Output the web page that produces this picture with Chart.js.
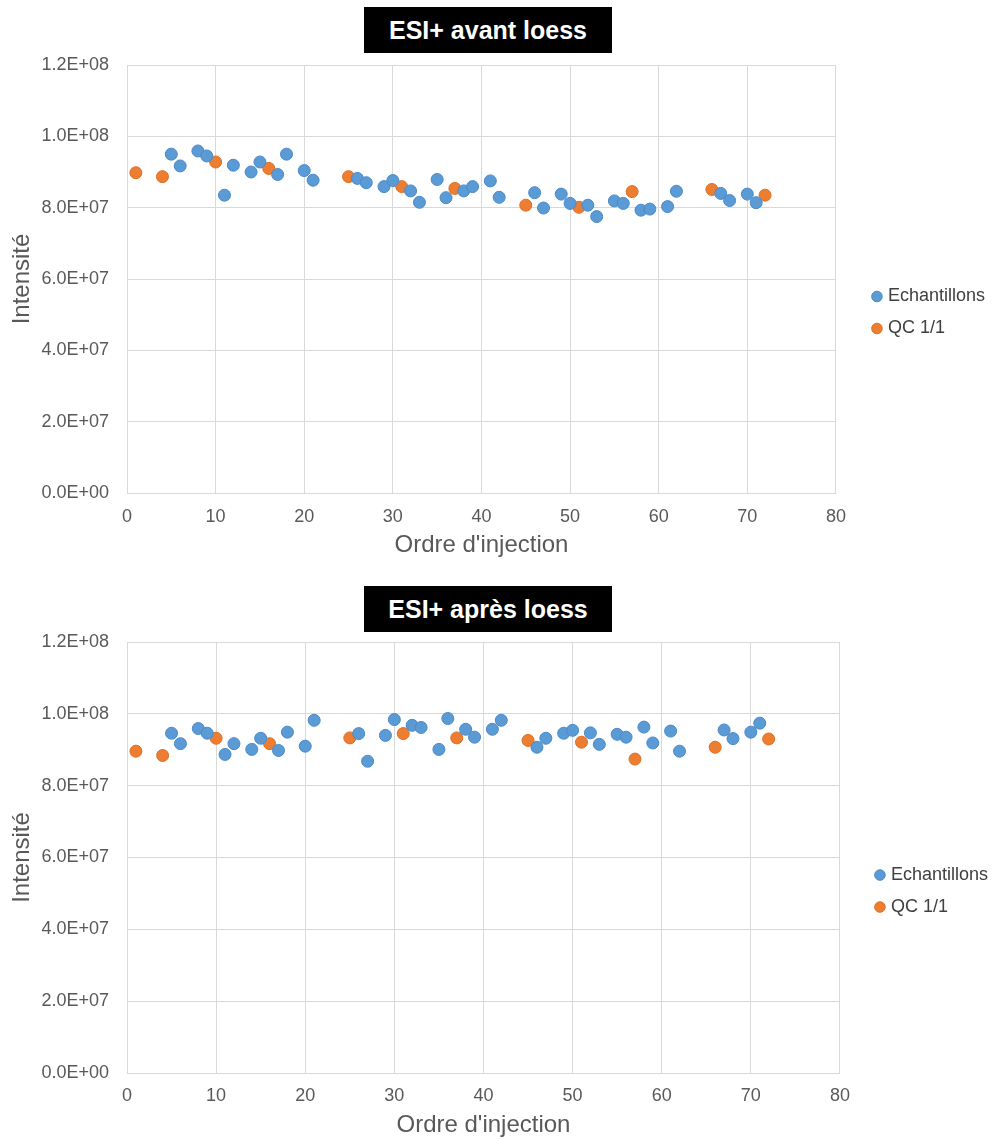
<!DOCTYPE html>
<html>
<head>
<meta charset="utf-8">
<script src="https://cdn.jsdelivr.net/npm/chart.js@4.4.1/dist/chart.umd.min.js"></script>
<style>
  html, body { margin: 0; padding: 0; background: #fff; }
  body { width: 995px; height: 1140px; position: relative; overflow: hidden; font-family: "Liberation Sans", Arial, sans-serif; }
  .wrap { position: absolute; left: 0; }
  .ttl { position: absolute; left: 364px; width: 248px; height: 46px; line-height: 46px; background: #000; color: #fff;
         font-weight: bold; font-size: 25px; text-align: center; font-family: "Liberation Sans", Arial, sans-serif; z-index: 2; }
</style>
</head>
<body>
<div class="wrap" style="top:0;width:995px;height:570px"><canvas id="c1" width="995" height="570"></canvas></div>
<div class="wrap" style="top:577px;width:998px;height:563px"><canvas id="c2" width="998" height="563"></canvas></div>
<div class="ttl" style="top:7px">ESI+ avant loess</div>
<div class="ttl" style="top:586px">ESI+ après loess</div>
<script>
// Injection order of each series
const sampleOrder = [5,6,8,9,11,12,14,15,17,18,20,21,26,27,29,30,32,33,35,36,38,39,41,42,46,47,49,50,52,53,55,56,58,59,61,62,67,68,70,71];
const qcOrder = [1,4,10,16,25,31,37,45,51,57,66,72];

// ESI+ avant loess
const avantSamples = [9.50e7,9.17e7,9.59e7,9.45e7,8.35e7,9.19e7,9.00e7,9.28e7,8.93e7,9.50e7,9.04e7,8.77e7,8.82e7,8.70e7,8.59e7,8.76e7,8.47e7,8.15e7,8.79e7,8.28e7,8.47e7,8.59e7,8.75e7,8.29e7,8.42e7,7.99e7,8.38e7,8.12e7,8.07e7,7.75e7,8.19e7,8.12e7,7.93e7,7.96e7,8.03e7,8.46e7,8.40e7,8.20e7,8.38e7,8.14e7];
const avantQC = [8.98e7,8.87e7,9.28e7,9.10e7,8.87e7,8.59e7,8.54e7,8.07e7,8.01e7,8.45e7,8.51e7,8.35e7];

// ESI+ après loess
const apresSamples = [9.46e7,9.17e7,9.59e7,9.46e7,8.87e7,9.17e7,9.01e7,9.32e7,8.98e7,9.49e7,9.10e7,9.82e7,9.45e7,8.68e7,9.40e7,9.84e7,9.68e7,9.62e7,9.01e7,9.87e7,9.57e7,9.35e7,9.57e7,9.82e7,9.07e7,9.32e7,9.46e7,9.54e7,9.47e7,9.15e7,9.43e7,9.35e7,9.63e7,9.19e7,9.52e7,8.96e7,9.55e7,9.31e7,9.49e7,9.74e7];
const apresQC = [8.96e7,8.84e7,9.32e7,9.17e7,9.33e7,9.45e7,9.33e7,9.26e7,9.21e7,8.74e7,9.07e7,9.30e7];

const seriesNames = ["Echantillons", "QC 1/1"];
const xMin = 0, xMax = 80, xStep = 10;
const yMin = 0, yMax = 1.2e8, yStep = 2e7;
const xTitle = "Ordre d'injection";
const yTitle = "Intensité";

function sci(v) {
  if (v === 0) return '0.0E+00';
  const e = Math.floor(Math.log10(Math.abs(v)) + 1e-9);
  const m = v / Math.pow(10, e);
  return m.toFixed(1) + 'E' + (e < 0 ? '-' : '+') + String(Math.abs(e)).padStart(2, '0');
}
function pts(xs, ys) { return xs.map((x, i) => ({ x: x, y: ys[i] })); }

const FONT = "'Liberation Sans', Arial, sans-serif";
const GRID = '#d9d9d9';
const TXT = '#595959';

function makeChart(id, samples, qc, opt) {
  return new Chart(document.getElementById(id), {
    type: 'scatter',
    data: {
      datasets: [
        { label: seriesNames[0], data: pts(sampleOrder, samples), backgroundColor: '#5B9BD5', borderColor: '#4A89C8', borderWidth: 1, pointRadius: 6, pointHoverRadius: 6 },
        { label: seriesNames[1], data: pts(qcOrder, qc), backgroundColor: '#ED7D31', borderColor: '#DD6F25', borderWidth: 1, pointRadius: 6, pointHoverRadius: 6 }
      ]
    },
    options: {
      responsive: false,
      animation: false,
      events: [],
      layout: { padding: { top: 65, left: 0, right: 0, bottom: opt.padBottom } },
      plugins: {
        title: { display: false },
        tooltip: { enabled: false },
        legend: {
          position: 'right',
          labels: {
            usePointStyle: true, pointStyle: 'circle',
            boxWidth: 4, boxHeight: 7.5, padding: 14,
            color: '#404040', font: { family: FONT, size: 18 }
          }
        }
      },
      scales: {
        x: {
          type: 'linear', position: 'bottom', min: xMin, max: xMax,
          afterFit: s => { s.height = 67; },
          ticks: { stepSize: xStep, color: TXT, font: { family: FONT, size: 18 }, padding: opt.xTickPad },
          grid: { color: GRID, lineWidth: 1, drawTicks: false },
          border: { color: GRID, width: 1 },
          title: { display: true, text: xTitle, color: TXT, font: { family: FONT, size: 24 }, padding: { top: 0, bottom: 0 } }
        },
        y: {
          type: 'linear', position: 'left', min: yMin, max: yMax,
          afterFit: s => { s.width = 127; },
          ticks: { stepSize: yStep, color: TXT, font: { family: FONT, size: 18 }, padding: 18, callback: v => sci(v) },
          grid: { color: GRID, lineWidth: 1, drawTicks: false },
          border: { color: GRID, width: 1 },
          title: { display: true, text: yTitle, color: TXT, font: { family: FONT, size: 24 }, padding: { top: 8, bottom: 0 } }
        },
        gap: {
          type: 'linear', position: 'right', display: true,
          afterFit: s => { s.width = opt.gap; },
          ticks: { display: false }, grid: { display: false }, border: { display: false }
        }
      }
    }
  });
}

makeChart('c1', avantSamples, avantQC, { padBottom: 10, xTickPad: 13, gap: 25 });
makeChart('c2', apresSamples, apresQC, { padBottom: 0, xTickPad: 12, gap: 24 });
</script>
</body>
</html>
